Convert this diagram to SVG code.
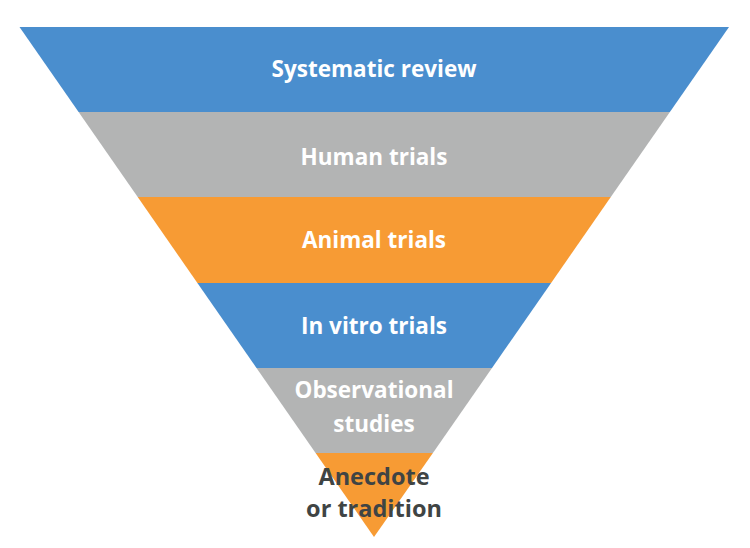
<svg xmlns="http://www.w3.org/2000/svg" width="750" height="548" viewBox="0 0 750 548">
<style>
.blue{fill:#4A8ECE}
.gray{fill:#B3B4B4}
.orange{fill:#F79B34}
.t{font-family:"Open Sans","Liberation Sans",sans-serif;font-weight:bold;font-size:22.5px;fill:#FFFFFF;text-anchor:middle}
.d{fill:#3F4444;font-size:23.5px}
</style>
<rect width="750" height="548" fill="#FFFFFF"/>
<g id="band1"><polygon class="blue" points="19.5,27 729,27 669.9,112 78.6,112"/><text class="t" x="374" y="77">Systematic review</text></g>
<g id="band2"><polygon class="gray" points="78.6,112 669.9,112 610.8,197 137.7,197"/><text class="t" x="374" y="165">Human trials</text></g>
<g id="band3"><polygon class="orange" points="137.7,197 610.8,197 551.1,283 197.4,283"/><text class="t" x="374" y="248">Animal trials</text></g>
<g id="band4"><polygon class="blue" points="197.4,283 551.1,283 492,368 256.5,368"/><text class="t" x="374" y="334">In vitro trials</text></g>
<g id="band5"><polygon class="gray" points="256.5,368 492,368 432.9,453 315.6,453"/><text class="t" x="374" y="398">Observational</text><text class="t" x="374" y="432">studies</text></g>
<g id="band6"><polygon class="orange" points="315.6,453 432.9,453 374,537"/><text class="t d" x="374" y="485">Anecdote</text><text class="t d" x="374" y="517">or tradition</text></g>
<g id="connectors"/>
</svg>
